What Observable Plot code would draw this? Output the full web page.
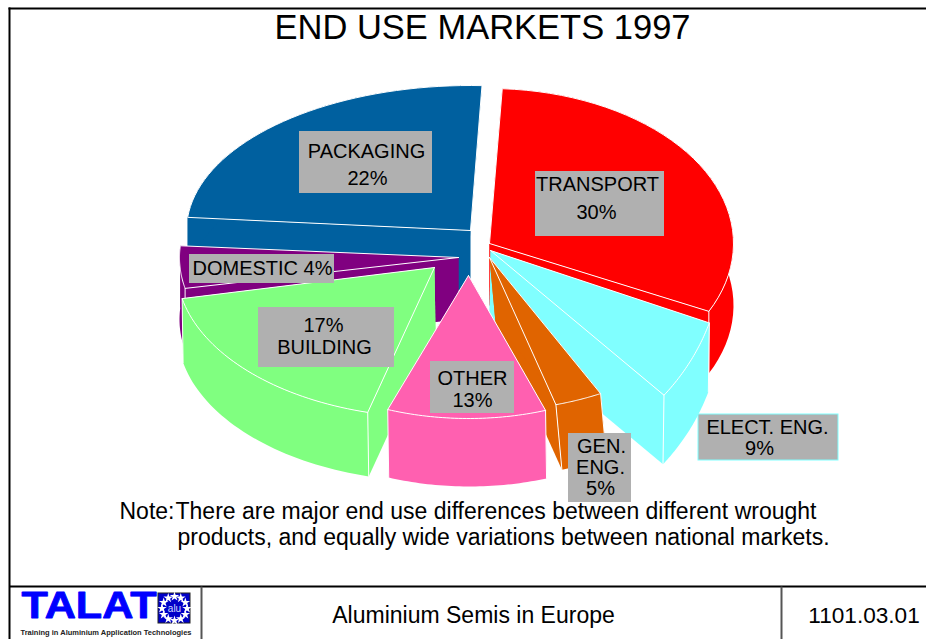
<!DOCTYPE html>
<html>
<head>
<meta charset="utf-8">
<style>html,body{margin:0;padding:0;background:#fff}svg{display:block}</style>
<script src="https://cdn.jsdelivr.net/npm/d3@7"></script>
<script src="https://cdn.jsdelivr.net/npm/@observablehq/plot@0.6"></script>
</head>
<body>
<div id="chart"></div>
<script>
// ---- chart values
const categories = ["PACKAGING","TRANSPORT","DOMESTIC","ELECT. ENG.","BUILDING","GEN. ENG.","OTHER"];
const shares     = [22, 30, 4, 9, 17, 5, 13];
const colors     = ["#00609f","#ff0000","#800080","#80ffff","#80ff80","#e06400","#ff60b0"];
const titleText  = "END USE MARKETS 1997";
const noteLines  = ["There are major end use differences between different wrought","products, and equally wide variations between national markets."];
const footer     = ["Aluminium Semis in Europe","1101.03.01"];

// ---- how each slice is exploded and foreshortened (drawn back to front)
const ax    = [470, 489, 458, 490, 434, 489, 468];
const ay    = [230, 243, 257, 250, 267, 257, 275];
const rx    = [284, 244, 279, 232, 258, 243, 232];
const ry    = [145, 155, 155, 218, 150, 153, 143];
const start = [275.2, 3, 258.5, 109.4, 195, 152.8, 160.6];
const warp  = [1.10, 1.046, 1.1, 0.685, 1.03, 0.63, 0.85];
const wallH = [60, 62, 62, 69, 64, 65, 68];
const wallDx= [0, 0, 0, -1, 1, 6, 1];
const endDx = [-5, 0, 0, -1, 1, 6, 1];

const pt = (i, deg) => {
  const t = deg * Math.PI / 180;
  return [ax[i] + rx[i] * Math.sin(t), ay[i] - ry[i] * Math.cos(t)];
};
const drop = (i, p, dx = wallDx[i]) => [p[0] + dx, p[1] + wallH[i]];

const polyMark = (pts, fill, stroke) => Plot.line(pts, {
  x: d => d[0], y: d => d[1], fill, stroke: stroke || "none", strokeWidth: 1,
  curve: "linear", strokeLinejoin: "round"
});

const marks = [];
shares.forEach((s, i) => {
  const a0 = start[i], a1 = a0 + s * 3.6 * warp[i];
  const arc = d3.range(0, 41).map(j => pt(i, a0 + (a1 - a0) * j / 40));
  const apex = [ax[i], ay[i]];
  const c0 = arc[0], c1 = arc[40];
  const col = colors[i];
  const lower = arc.map((p, j) => drop(i, p, wallDx[i] + (endDx[i] - wallDx[i]) * j / 40));
  marks.push(polyMark([apex, c1, drop(i, c1, endDx[i]), drop(i, apex, endDx[i]), apex], col));
  marks.push(polyMark([apex, c0, drop(i, c0), drop(i, apex), apex], col));
  marks.push(polyMark([...arc, ...lower.reverse(), arc[0]], col));
  marks.push(polyMark([apex, ...arc, apex], col, "#fff"));
  if (c0[1] > ay[i]) marks.push(polyMark([c0, drop(i, c0)], "none", "#fff"));
  if (c1[1] > ay[i]) marks.push(polyMark([c1, drop(i, c1)], "none", "#fff"));
});

// ---- grey labels
const labelBoxes = [
  {x1: 299, x2: 432, y1: 131, y2: 193, lines: ["PACKAGING", "22%"], tx: [366, 367], ty: [151, 178]},
  {x1: 535, x2: 664, y1: 171, y2: 236, lines: ["TRANSPORT", "30%"], tx: [597, 596], ty: [184, 212]},
  {x1: 189, x2: 334, y1: 254, y2: 283, lines: ["DOMESTIC 4%"], tx: [262], ty: [268]},
  {x1: 258, x2: 394, y1: 307, y2: 367, lines: ["17%", "BUILDING"], tx: [323, 324], ty: [325, 347]},
  {x1: 430, x2: 514, y1: 361, y2: 413, lines: ["OTHER", "13%"], tx: [472, 472], ty: [378, 400]},
  {x1: 568, x2: 631, y1: 433, y2: 502, lines: ["GEN.", "ENG.", "5%"], tx: [601, 600, 600], ty: [446, 467, 488]},
  {x1: 698, x2: 838, y1: 414, y2: 460, lines: ["ELECT. ENG.", "9%"], tx: [767, 759], ty: [427.5, 448]}
];
marks.push(Plot.rect(labelBoxes, {x1: "x1", x2: "x2", y1: "y1", y2: "y2", fill: "#b0b0b0",
  stroke: d => d.lines[0].startsWith("ELECT") ? "#80ffff" : "none", strokeWidth: 1}));
const labelTexts = labelBoxes.flatMap(b => b.lines.map((t, k) => ({t, x: b.tx[k], y: b.ty[k]})));
const font = "Liberation Sans, Arial, sans-serif";
marks.push(Plot.text(labelTexts, {x: "x", y: "y", text: "t", fontSize: 20, fontFamily: font, fill: "#000", textAnchor: "middle"}));

// ---- title and note
marks.push(Plot.text([titleText], {x: () => 482, y: () => 27, text: d => d, fontSize: 34.5, fontFamily: font, fill: "#000"}));
marks.push(Plot.text(["Note:"], {x: () => 119, y: () => 511, text: d => d, fontSize: 23, fontFamily: font, textAnchor: "start", fill: "#000"}));
marks.push(Plot.text(noteLines, {x: (d, i) => i ? 177 : 175, y: (d, i) => i ? 537 : 511, text: d => d, fontSize: 23, fontFamily: font, textAnchor: "start", fill: "#000"}));

// ---- frame and footer
const rules = [
  {x1: 9, y1: 7, x2: 9, y2: 639, c: "#000", w: 2},
  {x1: 8, y1: 8, x2: 926, y2: 8, c: "#000", w: 2},
  {x1: 9, y1: 586, x2: 926, y2: 586, c: "#000", w: 2},
  {x1: 201, y1: 586, x2: 201, y2: 639, c: "#555", w: 2},
  {x1: 781, y1: 586, x2: 781, y2: 639, c: "#555", w: 2}
];
marks.push(Plot.link(rules, {x1: "x1", y1: "y1", x2: "x2", y2: "y2", stroke: "c", strokeWidth: "w", markerEnd: "none"}));
marks.push(Plot.text([footer[0]], {x: () => 473, y: () => 615, text: d => d, fontSize: 23, fontFamily: font, fill: "#000"}));
marks.push(Plot.text([footer[1]], {x: () => 863.5, y: () => 615, text: d => d, fontSize: 22.6, fontFamily: font, fill: "#000"}));

// ---- logo
marks.push(Plot.text(["TALAT"], {x: () => 21, y: () => 606, text: d => d, fontSize: 36, fontWeight: "bold", fontFamily: font, textAnchor: "start", fill: "#0000ff", stroke: "#0000ff", strokeWidth: 0.8, className: "talat"}));
marks.push(Plot.text(["Training in Aluminium Application Technologies"], {x: () => 105.5, y: () => 632, text: d => d, fontSize: 7.5, fontWeight: "bold", fontFamily: font, fill: "#222"}));
marks.push(Plot.rect([0], {x1: () => 158, x2: () => 190, y1: () => 593, y2: () => 623, fill: "#0000c8", stroke: "#222"}));
marks.push(Plot.dot(d3.range(12), {x: i => 174 + 12.5 * Math.sin(i * Math.PI / 6), y: i => 608 - 12 * Math.cos(i * Math.PI / 6), r: 3, symbol: "star", fill: "#fff"}));
marks.push(Plot.text(["alu"], {x: () => 174, y: () => 608, text: d => d, fontSize: 10, fontFamily: font, fill: "#cfd8ff"}));

const chart = Plot.plot({
  width: 926, height: 639, margin: 0,
  x: {domain: [0, 926], range: [0, 926], axis: null},
  y: {domain: [0, 639], range: [0, 639], axis: null},
  style: {background: "#fff"},
  marks
});
chart.querySelectorAll(".talat text").forEach(t => {
  t.setAttribute("textLength", 135);
  t.setAttribute("lengthAdjust", "spacingAndGlyphs");
});
document.getElementById("chart").appendChild(chart);
</script>
</body>
</html>
